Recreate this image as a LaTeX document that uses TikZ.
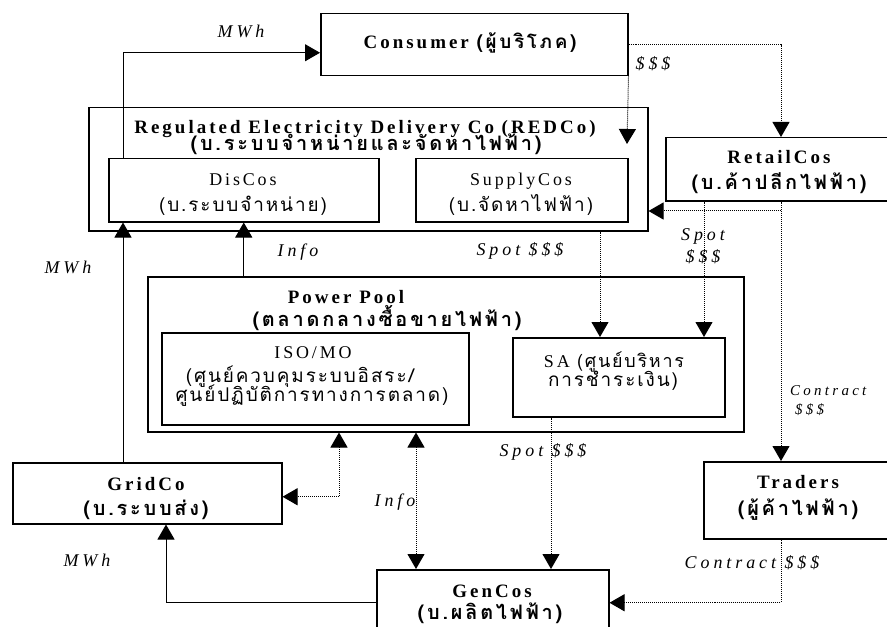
\documentclass[tikz,border=0pt]{standalone}
\usepackage{fontspec}
\setmainfont{Liberation Serif}[LetterSpace=16]
\newfontfamily\thai{Loma}[Script=Thai,LetterSpace=14]
\newfontfamily\thaireg{Loma}[Script=Thai,LetterSpace=10]
\newfontfamily\wide{Liberation Serif}[LetterSpace=22]
\usetikzlibrary{arrows.meta}

\begin{document}
\begin{tikzpicture}[x=1bp,y=-1bp,
  box/.style={draw, line width=1.5bp, inner sep=0pt, anchor=north west},
  tip/.tip={Triangle[length=15bp,width=17bp]},
  wire/.style={line width=1bp},
  dots/.style={line width=1bp, densely dotted},
  txt/.style={anchor=base, inner sep=0pt, font=\fontsize{18}{20}\selectfont},
  head/.style={txt, font=\bfseries\fontsize{19}{21}\selectfont},
  thr/.style={anchor=base, inner sep=0pt, font=\thaireg\fontsize{19}{21}\selectfont},
  thb/.style={anchor=base, inner sep=0pt, font=\thai\bfseries\fontsize{20}{22}\selectfont},
  lab/.style={txt, font=\wide\itshape\fontsize{18}{20}\selectfont},
  slab/.style={txt, font=\wide\itshape\fontsize{15}{17}\selectfont}
]
\useasboundingbox (0,0) rectangle (887,627);
\clip (0,0) rectangle (887,627);

% ---- boxes ----
\node[box, minimum width=559bp, minimum height=123bp] (redco) at (88,107) {};
\node[box, minimum width=270bp, minimum height=63bp] (discos) at (108,158) {};
\node[box, minimum width=212bp, minimum height=63bp] (supply) at (415,158) {};
\node[box, minimum width=307bp, minimum height=62bp] (consumer) at (320,13) {};
\node[box, minimum width=228bp, minimum height=63bp] (retail) at (665,137) {};
\node[box, minimum width=596bp, minimum height=155bp] (pool) at (147,276) {};
\node[box, minimum width=307bp, minimum height=92bp] (iso) at (161,332) {};
\node[box, minimum width=212bp, minimum height=79bp] (sa) at (512,337) {};
\node[box, minimum width=269bp, minimum height=61bp] (grid) at (12,462) {};
\node[box, minimum width=190bp, minimum height=77bp] (traders) at (703,461) {};
\node[box, minimum width=232bp, minimum height=66bp] (gen) at (376,569) {};

% ---- box texts ----
\node[head] (consumer-t) at (470,49) {Consumer {\thai(ผู้บริโภค)}};
\node[head] (redco-t1) at (365,134) {Regulated Electricity Delivery Co (REDCo)};
\node[thb] (redco-t2) at (366,151) {(บ.ระบบจำหน่ายและจัดหาไฟฟ้า)};
\node[txt] (discos-t1) at (243,186) {DisCos};
\node[thr] (discos-t2) at (243,212) {(บ.ระบบจำหน่าย)};
\node[txt] (supply-t1) at (521,186) {SupplyCos};
\node[thr] (supply-t2) at (521,212) {(บ.จัดหาไฟฟ้า)};
\node[head] (retail-t1) at (779,164) {RetailCos};
\node[thb] (retail-t2) at (779,190) {(บ.ค้าปลีกไฟฟ้า)};
\node[head] (pool-t1) at (346,303) {Power Pool};
\node[thb] (pool-t2) at (387,326) {(ตลาดกลางซื้อขายไฟฟ้า)};
\node[txt] (iso-t1) at (313,358) {ISO/MO};
\node[thr] (iso-t2) at (300,382) {(ศูนย์ควบคุมระบบอิสระ/};
\node[thr] (iso-t3) at (312,401) {ศูนย์ปฏิบัติการทางการตลาด)};
\node[txt] (sa-t1) at (614,367) {SA {\thaireg(ศูนย์บริหาร}};
\node[thr] (sa-t2) at (613,386) {การชำระเงิน)};
\node[head] (grid-t1) at (146,490) {GridCo};
\node[thb] (grid-t2) at (146,515) {(บ.ระบบส่ง)};
\node[head] (traders-t1) at (798,488) {Traders};
\node[thb] (traders-t2) at (798,515) {(ผู้ค้าไฟฟ้า)};
\node[head] (gen-t1) at (492,597) {GenCos};
\node[thb] (gen-t2) at (490,619) {(บ.ผลิตไฟฟ้า)};

% ---- connector columns ----
\coordinate (xA) at (123,0);
\coordinate (xR) at (781,0);
\coordinate (xS) at (704,0);
\coordinate (xU) at (600,0);
\coordinate (xP) at (339,0);
\coordinate (xI) at (416,0);
\coordinate (xG) at (166,0);
\coordinate (xQ) at (551,0);
\coordinate (split) at (781,211);
\coordinate (drop) at (627,144);

% ---- connectors ----
\draw[wire,-tip] (discos.north -| xA) |- ([yshift=-8bp]consumer.west);
\draw[dots,-tip] (consumer.south east) -- (drop);
\draw[dots,-tip] (consumer.east) -| (retail.north -| xR);
\draw[dots,-tip] (retail.south -| xR) -- (traders.north -| xR);
\draw[dots,-tip] (split) -- (redco.east |- split);
\draw[dots,-tip] (retail.south -| xS) -- (sa.north -| xS);
\draw[dots,-tip] (redco.south -| xU) -- (sa.north -| xU);
\draw[wire,-tip] (pool.north -| discos.south) -- (discos.south);
\draw[wire,-tip] (grid.north -| xA) -- (discos.south -| xA);
\draw[dots,tip-tip] (pool.south -| xP) |- ([yshift=-3.5bp]grid.east);
\draw[dots,tip-tip] (pool.south -| xI) -- (gen.north -| xI);
\draw[wire,-tip] (gen.west) -| (grid.south -| xG);
\draw[dots,-tip] (sa.south -| xQ) -- (gen.north -| xQ);
\draw[dots,-tip] (traders.south -| xR) |- (gen.east);

% ---- flow labels ----
\node[lab] (l-mwh1) at (241,38) {MWh};
\node[lab] (l-pay) at (653,70) {\$\$\$};
\node[lab] (l-info1) at (298,257) {Info};
\node[lab] (l-mwh2) at (68,273) {MWh};
\node[lab] (l-spot1) at (520,256) {Spot \$\$\$};
\node[lab] (l-spot2a) at (703,241) {Spot};
\node[lab] (l-spot2b) at (703,263) {\$\$\$};
\node[slab, anchor=base west] (l-con1a) at (790,395) {Contract};
\node[slab, anchor=base west] (l-con1b) at (795,414) {\$\$\$};
\node[lab] (l-spot3) at (543,456) {Spot \$\$\$};
\node[lab] (l-info2) at (395,506) {Info};
\node[lab] (l-mwh3) at (87,566) {MWh};
\node[lab] (l-con2) at (752,568) {Contract \$\$\$};
\end{tikzpicture}
\end{document}
